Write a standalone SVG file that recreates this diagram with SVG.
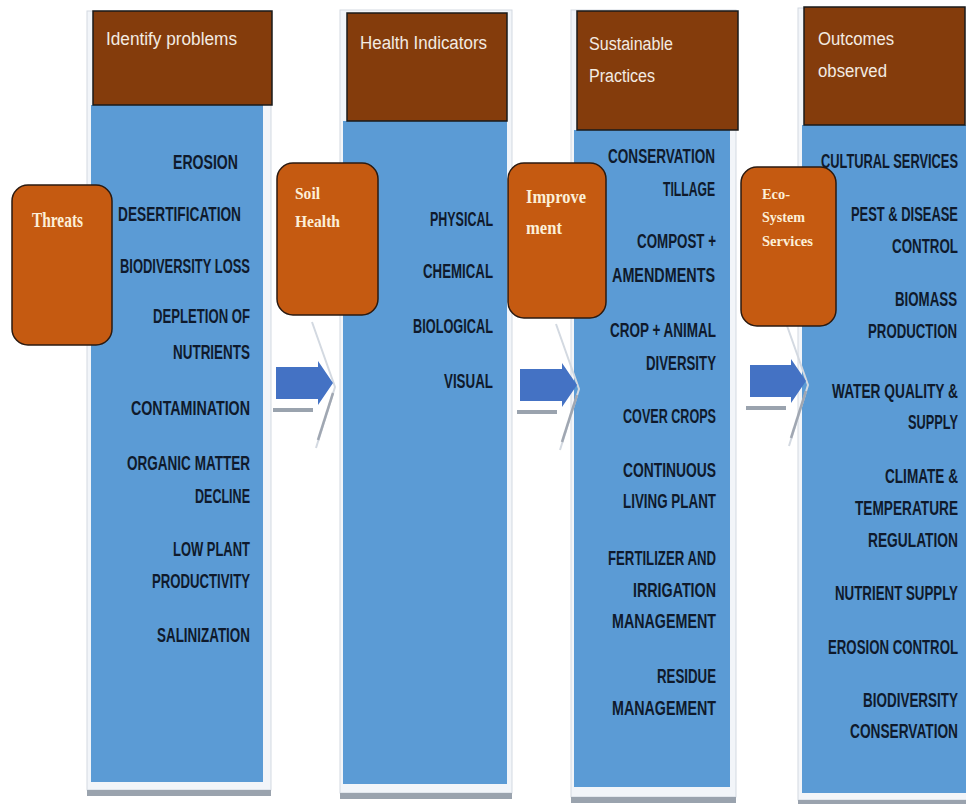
<svg xmlns="http://www.w3.org/2000/svg" width="966" height="804" viewBox="0 0 966 804">
<style>
.panel{fill:#f2f5f9;stroke:#d3d9e1;stroke-width:1}
.bar{fill:#9aa3ae}
.blue{fill:#5B9BD5}
.hdr{fill:#843C0C;stroke:#1a1a1a;stroke-width:1.5}
.box{fill:#C55A11;stroke:#2b1a10;stroke-width:1.5}
.ht{font-family:"Liberation Sans Narrow","Liberation Sans",sans-serif;font-size:18px;fill:#F3EBE2}
.it{font-family:"Liberation Sans Narrow","Liberation Sans",sans-serif;font-weight:bold;font-size:12px;fill:#0f1a2c}
.bt{font-family:"Liberation Serif",serif;font-weight:bold;fill:#FCEFD8}
.chev{fill:none;stroke:#d3d9e1;stroke-width:2}
.shad{fill:none;stroke:#a0a7b2;stroke-width:2.5}
.arr{fill:#4472C4}
</style>
<rect width="966" height="804" fill="#ffffff"/>

<g id="col-identify">
<rect class="panel" x="87" y="11" width="184" height="779"/>
<rect class="bar" x="87" y="790" width="184" height="6"/>
<rect class="blue" x="91" y="105" width="172" height="677"/>
<rect class="hdr" x="93" y="11" width="179" height="94"/>
<text class="ht" x="106" y="45" textLength="131" lengthAdjust="spacingAndGlyphs">Identify problems</text>
<text class="it" transform="translate(173,169) scale(1,1.75)" textLength="65" lengthAdjust="spacingAndGlyphs">EROSION</text>
<text class="it" transform="translate(118,221) scale(1,1.75)" textLength="123" lengthAdjust="spacingAndGlyphs">DESERTIFICATION</text>
<text class="it" transform="translate(120,273) scale(1,1.75)" textLength="130" lengthAdjust="spacingAndGlyphs">BIODIVERSITY LOSS</text>
<text class="it" transform="translate(153,323) scale(1,1.75)" textLength="97" lengthAdjust="spacingAndGlyphs">DEPLETION OF</text>
<text class="it" transform="translate(173,359) scale(1,1.75)" textLength="77" lengthAdjust="spacingAndGlyphs">NUTRIENTS</text>
<text class="it" transform="translate(131,415) scale(1,1.75)" textLength="119" lengthAdjust="spacingAndGlyphs">CONTAMINATION</text>
<text class="it" transform="translate(127,470) scale(1,1.75)" textLength="123" lengthAdjust="spacingAndGlyphs">ORGANIC MATTER</text>
<text class="it" transform="translate(195,503) scale(1,1.75)" textLength="55" lengthAdjust="spacingAndGlyphs">DECLINE</text>
<text class="it" transform="translate(173,556) scale(1,1.75)" textLength="77" lengthAdjust="spacingAndGlyphs">LOW PLANT</text>
<text class="it" transform="translate(152,588) scale(1,1.75)" textLength="98" lengthAdjust="spacingAndGlyphs">PRODUCTIVITY</text>
<text class="it" transform="translate(157,642) scale(1,1.75)" textLength="93" lengthAdjust="spacingAndGlyphs">SALINIZATION</text>
</g>

<g id="col-health">
<rect class="panel" x="340" y="10" width="172" height="783"/>
<rect class="bar" x="340" y="793" width="172" height="6"/>
<rect class="blue" x="343" y="121" width="164" height="663"/>
<rect class="hdr" x="347" y="13" width="160" height="108"/>
<text class="ht" x="360" y="49" textLength="127" lengthAdjust="spacingAndGlyphs">Health Indicators</text>
<text class="it" transform="translate(430,226) scale(1,1.75)" textLength="63" lengthAdjust="spacingAndGlyphs">PHYSICAL</text>
<text class="it" transform="translate(423,278) scale(1,1.75)" textLength="70" lengthAdjust="spacingAndGlyphs">CHEMICAL</text>
<text class="it" transform="translate(413,333) scale(1,1.75)" textLength="80" lengthAdjust="spacingAndGlyphs">BIOLOGICAL</text>
<text class="it" transform="translate(444,388) scale(1,1.75)" textLength="49" lengthAdjust="spacingAndGlyphs">VISUAL</text>
</g>

<g id="col-practices">
<rect class="panel" x="571" y="10" width="165" height="787"/>
<rect class="bar" x="571" y="797" width="165" height="6"/>
<rect class="blue" x="574" y="130" width="156" height="657"/>
<rect class="hdr" x="577" y="11" width="161" height="119"/>
<text class="ht" x="589" y="50" textLength="84" lengthAdjust="spacingAndGlyphs">Sustainable</text>
<text class="ht" x="589" y="82" textLength="66" lengthAdjust="spacingAndGlyphs">Practices</text>
<text class="it" transform="translate(608,163) scale(1,1.75)" textLength="107" lengthAdjust="spacingAndGlyphs">CONSERVATION</text>
<text class="it" transform="translate(663,196) scale(1,1.75)" textLength="52" lengthAdjust="spacingAndGlyphs">TILLAGE</text>
<text class="it" transform="translate(637,248) scale(1,1.75)" textLength="79" lengthAdjust="spacingAndGlyphs">COMPOST +</text>
<text class="it" transform="translate(612,282) scale(1,1.75)" textLength="103" lengthAdjust="spacingAndGlyphs">AMENDMENTS</text>
<text class="it" transform="translate(610,337) scale(1,1.75)" textLength="106" lengthAdjust="spacingAndGlyphs">CROP + ANIMAL</text>
<text class="it" transform="translate(646,370) scale(1,1.75)" textLength="70" lengthAdjust="spacingAndGlyphs">DIVERSITY</text>
<text class="it" transform="translate(623,423) scale(1,1.75)" textLength="93" lengthAdjust="spacingAndGlyphs">COVER CROPS</text>
<text class="it" transform="translate(623,477) scale(1,1.75)" textLength="93" lengthAdjust="spacingAndGlyphs">CONTINUOUS</text>
<text class="it" transform="translate(623,508) scale(1,1.75)" textLength="93" lengthAdjust="spacingAndGlyphs">LIVING PLANT</text>
<text class="it" transform="translate(608,565) scale(1,1.75)" textLength="108" lengthAdjust="spacingAndGlyphs">FERTILIZER AND</text>
<text class="it" transform="translate(633,597) scale(1,1.75)" textLength="83" lengthAdjust="spacingAndGlyphs">IRRIGATION</text>
<text class="it" transform="translate(612,628) scale(1,1.75)" textLength="104" lengthAdjust="spacingAndGlyphs">MANAGEMENT</text>
<text class="it" transform="translate(657,683) scale(1,1.75)" textLength="59" lengthAdjust="spacingAndGlyphs">RESIDUE</text>
<text class="it" transform="translate(612,715) scale(1,1.75)" textLength="104" lengthAdjust="spacingAndGlyphs">MANAGEMENT</text>
</g>

<g id="col-outcomes">
<rect class="panel" x="798" y="8" width="170" height="792"/>
<rect class="bar" x="798" y="800" width="170" height="5"/>
<rect class="blue" x="802" y="125" width="166" height="668"/>
<rect class="hdr" x="804" y="7" width="161" height="118"/>
<text class="ht" x="818" y="45" textLength="76" lengthAdjust="spacingAndGlyphs">Outcomes</text>
<text class="ht" x="818" y="77" textLength="69" lengthAdjust="spacingAndGlyphs">observed</text>
<text class="it" transform="translate(821,168) scale(1,1.75)" textLength="137" lengthAdjust="spacingAndGlyphs">CULTURAL SERVICES</text>
<text class="it" transform="translate(851,221) scale(1,1.75)" textLength="107" lengthAdjust="spacingAndGlyphs">PEST &amp; DISEASE</text>
<text class="it" transform="translate(892,253) scale(1,1.75)" textLength="66" lengthAdjust="spacingAndGlyphs">CONTROL</text>
<text class="it" transform="translate(895,306) scale(1,1.75)" textLength="62" lengthAdjust="spacingAndGlyphs">BIOMASS</text>
<text class="it" transform="translate(868,338) scale(1,1.75)" textLength="89" lengthAdjust="spacingAndGlyphs">PRODUCTION</text>
<text class="it" transform="translate(832,398) scale(1,1.75)" textLength="126" lengthAdjust="spacingAndGlyphs">WATER QUALITY &amp;</text>
<text class="it" transform="translate(908,429) scale(1,1.75)" textLength="50" lengthAdjust="spacingAndGlyphs">SUPPLY</text>
<text class="it" transform="translate(885,483) scale(1,1.75)" textLength="73" lengthAdjust="spacingAndGlyphs">CLIMATE &amp;</text>
<text class="it" transform="translate(855,515) scale(1,1.75)" textLength="103" lengthAdjust="spacingAndGlyphs">TEMPERATURE</text>
<text class="it" transform="translate(868,547) scale(1,1.75)" textLength="90" lengthAdjust="spacingAndGlyphs">REGULATION</text>
<text class="it" transform="translate(835,600) scale(1,1.75)" textLength="123" lengthAdjust="spacingAndGlyphs">NUTRIENT SUPPLY</text>
<text class="it" transform="translate(828,654) scale(1,1.75)" textLength="130" lengthAdjust="spacingAndGlyphs">EROSION CONTROL</text>
<text class="it" transform="translate(863,707) scale(1,1.75)" textLength="95" lengthAdjust="spacingAndGlyphs">BIODIVERSITY</text>
<text class="it" transform="translate(850,738) scale(1,1.75)" textLength="108" lengthAdjust="spacingAndGlyphs">CONSERVATION</text>
</g>

<g id="connectors">
<g id="arrow1">
<path class="chev" d="M312,322 L335,387 L316,448"/>
<path class="shad" d="M333,393 L318,440"/>
<rect class="bar" x="273" y="408" width="40" height="4"/>
<polygon class="arr" points="276,367 318,367 318,361 333,383 318,405 318,399 276,399"/>
</g>
<g id="arrow2">
<path class="chev" d="M556,324 L579,389 L560,450"/>
<path class="shad" d="M577,395 L562,442"/>
<rect class="bar" x="517" y="410" width="40" height="4"/>
<polygon class="arr" points="520,369 562,369 562,363 577,385 562,407 562,401 520,401"/>
</g>
<g id="arrow3">
<path class="chev" d="M785,320 L808,385 L789,446"/>
<path class="shad" d="M806,391 L791,438"/>
<rect class="bar" x="746" y="406" width="40" height="4"/>
<polygon class="arr" points="750,365 791,365 791,359 806,381 791,403 791,397 750,397"/>
</g>
</g>

<g id="threats">
<rect class="box" x="12" y="185" width="100" height="160" rx="16"/>
<text class="bt" x="32" y="227" font-size="20" textLength="51" lengthAdjust="spacingAndGlyphs">Threats</text>
</g>
<g id="soil-health">
<rect class="box" x="277" y="163" width="101" height="152" rx="16"/>
<text class="bt" x="295" y="199" font-size="16" textLength="25" lengthAdjust="spacingAndGlyphs">Soil</text>
<text class="bt" x="295" y="227" font-size="16" textLength="45" lengthAdjust="spacingAndGlyphs">Health</text>
</g>
<g id="improvement">
<rect class="box" x="508" y="163" width="98" height="155" rx="16"/>
<text class="bt" x="526" y="203" font-size="18" textLength="60" lengthAdjust="spacingAndGlyphs">Improve</text>
<text class="bt" x="526" y="234" font-size="18" textLength="36" lengthAdjust="spacingAndGlyphs">ment</text>
</g>
<g id="ecosystem">
<rect class="box" x="741" y="167" width="95" height="159" rx="16"/>
<text class="bt" x="762" y="199" font-size="15" textLength="28" lengthAdjust="spacingAndGlyphs">Eco-</text>
<text class="bt" x="762" y="222" font-size="15" textLength="43" lengthAdjust="spacingAndGlyphs">System</text>
<text class="bt" x="762" y="246" font-size="15" textLength="51" lengthAdjust="spacingAndGlyphs">Services</text>
</g>
</svg>
